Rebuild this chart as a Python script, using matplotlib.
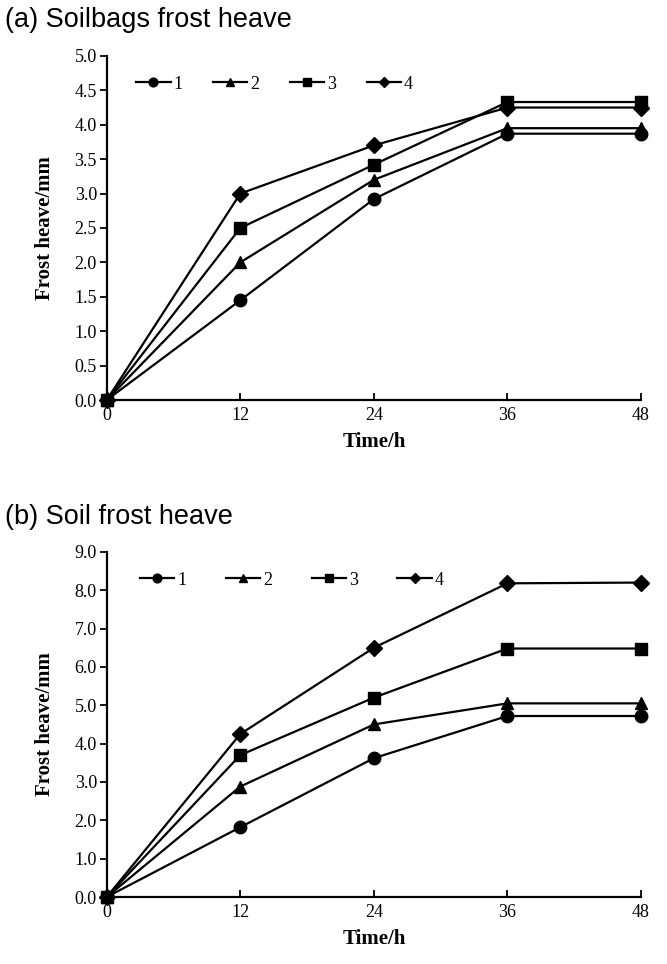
import matplotlib
matplotlib.use("Agg")
import matplotlib.pyplot as plt

time_h = [0, 12, 24, 36, 48]
labels = ["1", "2", "3", "4"]
markers = ["o", "^", "s", "D"]

# (a) soilbags frost heave, mm
bag_1 = [0, 1.45, 2.92, 3.87, 3.87]
bag_2 = [0, 2.00, 3.20, 3.95, 3.95]
bag_3 = [0, 2.50, 3.42, 4.33, 4.33]
bag_4 = [0, 3.00, 3.70, 4.25, 4.25]

# (b) soil frost heave, mm
soil_1 = [0, 1.82, 3.62, 4.72, 4.72]
soil_2 = [0, 2.88, 4.50, 5.05, 5.05]
soil_3 = [0, 3.70, 5.20, 6.48, 6.48]
soil_4 = [0, 4.25, 6.50, 8.18, 8.20]

bag_yticks = [0, 0.5, 1.0, 1.5, 2.0, 2.5, 3.0, 3.5, 4.0, 4.5, 5.0]
soil_yticks = [0, 1, 2, 3, 4, 5, 6, 7, 8, 9]

serif = "Liberation Serif"
sans = "Liberation Sans"

fig = plt.figure(figsize=(6.67, 9.64), dpi=100)
ax1 = fig.add_axes([0.160, 0.585, 0.801, 0.357])
ax2 = fig.add_axes([0.160, 0.0695, 0.801, 0.358])


def draw(ax, series, yticks, leg_x, colsp):
    for ys, lab, m in zip(series, labels, markers):
        ms = 9 if m != "D" else 8
        ax.plot(time_h, ys, color="black", lw=1.6, marker=m, ms=ms,
                label=lab, clip_on=False, zorder=3)
    ax.set_xlim(0, 48)
    ax.set_ylim(0, yticks[-1])
    ax.set_xticks(time_h)
    ax.set_yticks(yticks)
    ax.spines["top"].set_visible(False)
    ax.spines["right"].set_visible(False)
    ax.spines["left"].set_linewidth(1.6)
    ax.spines["bottom"].set_linewidth(1.6)
    ax.tick_params(axis="x", direction="in", length=5, width=1.3, pad=5)
    ax.tick_params(axis="y", direction="out", length=5, width=1.3, pad=2)
    ax.yaxis.set_major_formatter(plt.FormatStrFormatter("%.1f"))
    for t in ax.get_xticklabels() + ax.get_yticklabels():
        t.set_family(serif)
        t.set_fontsize(13)
    ax.set_xlabel("Time/h", family=serif, fontsize=15, fontweight="bold", labelpad=6)
    ax.set_ylabel("Frost heave/mm", family=serif, fontsize=15, fontweight="bold", labelpad=14)
    ax.legend(loc="upper left", bbox_to_anchor=(leg_x, 0.99), ncol=4,
              frameon=False, prop={"family": serif, "size": 13},
              markerscale=0.7, handlelength=1.9, handletextpad=0.15,
              columnspacing=colsp)


draw(ax1, [bag_1, bag_2, bag_3, bag_4], bag_yticks, 0.025, 1.7)
draw(ax2, [soil_1, soil_2, soil_3, soil_4], soil_yticks, 0.032, 2.2)

fig.text(0.008, 0.979, "(a) Soilbags frost heave", family=sans, fontsize=19.5, va="center")
fig.text(0.008, 0.4637, "(b) Soil frost heave", family=sans, fontsize=19.5, va="center")

fig.savefig("out.png", dpi=100)
